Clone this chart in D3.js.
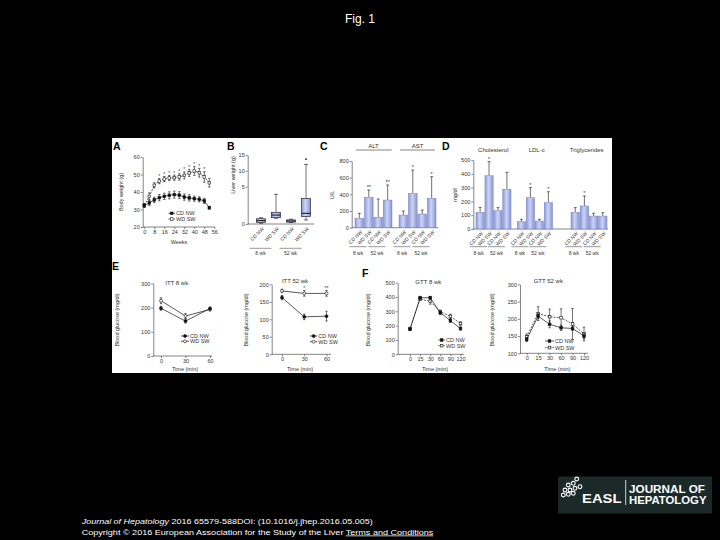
<!DOCTYPE html>
<html><head><meta charset="utf-8">
<script src="https://cdn.jsdelivr.net/npm/d3@7"></script>
<style>body{margin:0;background:#000;} svg{display:block;} text{font-family:Arial,"Liberation Sans",sans-serif;}</style>
</head><body>
<svg id="c" width="720" height="540"></svg>
<script>
// ---------- DATA ----------
// A: body weight
const weeks = [0,4,8,12,16,20,24,28,32,36,40,44,48,52];
const bwCD = [32.2,33.8,35.5,36.8,37.5,38.1,38.5,38.2,37.1,36.6,36.2,35.8,34.9,31.0];
const bwCDerr = [1,1.5,1.5,1.8,1.8,2,2,2,1.8,1.8,1.5,1.5,1.5,0.8];
const bwWD = [32.4,37.5,43.8,46.2,47.4,48,48.2,48.6,49.5,50.9,52.0,51.0,48.6,45.3];
const bwWDerr = [1,2,1.5,1.5,1.5,1.5,1.5,1.8,2,2,2.5,2.5,3,2.5];
const bwStarWeeks = [12,16,20,24,28,32,36,40,44,48];
const bwXTicks = [0,8,16,24,32,40,48,56];
const bwYTicks = [20,30,40,50,60];
// B: liver weight boxes
const groupCats = ["CD NW","WD SW","CD NW","WD SW"];
const periods = ["8 wk","52 wk"];
const liverMin = [0.1,0.76,0.2,0.54];
const liverQ1 = [0.2,0.84,0.25,0.98];
const liverMed = [0.45,1.2,0.4,1.43];
const liverQ3 = [0.7,1.57,0.55,3.44];
const liverMax = [0.85,3.98,0.65,12.0];
const liverOutliers = [[],[],[],[13.7]];
const liverYTicks = [0,5,10,15];
// C: ALT / AST
const cGroups = ["ALT","AST"];
const altMean = [113,365,125,332], altErr = [60,87,219,180], altStars = ["","**","","**"];
const astMean = [152,412,164,352], astErr = [48,280,48,260], astStars = ["","*","","*"];
const cYTicks = [0,200,400,600,800];
// D: lipids
const dGroups = ["Cholesterol","LDL-c","Triglycerides"];
const cholMean = [121,386,133,288], cholErr = [36,102,22,123], cholStars = ["","*","",""];
const ldlMean = [53,227,58,191], ldlErr = [17,73,12,79], ldlStars = ["","*","","*"];
const tgMean = [121,167,94,94], tgErr = [34,72,20,24], tgStars = ["","*","",""];
const dYTicks = [0,100,200,300,400,500];
// E: ITT
const ittTimes = [0,30,60];
const itt8CD = [197,144,196], itt8CDerr = [8,8,6];
const itt8WD = [228,165,192], itt8WDerr = [12,10,6];
const itt52CD = [162,107,109], itt52CDerr = [6,8,14];
const itt52WD = [181,174,174], itt52WDerr = [5,8,8];
const itt52Stars = ["","*","**"];
const itt8YTicks = [0,100,200,300];
const itt52YTicks = [0,50,100,150,200];
// F: GTT
const gttTimes = ["0","15","30","60","90","120"];
const gtt8CD = [175,395,395,290,235,180], gtt8CDerr = [8,10,10,12,12,12];
const gtt8WD = [180,385,370,297,265,215], gtt8WDerr = [8,10,20,12,15,12];
const gtt52CD = [140,208,184,174,172,150], gtt52CDerr = [6,8,10,8,6,8];
const gtt52WD = [148,215,206,203,185,156], gtt52WDerr = [8,20,22,26,45,20];
const gtt8YTicks = [0,100,200,300,400,500];
const gtt52YTicks = [100,150,200,250,300];

// ---------- SETUP ----------
const svg = d3.select("#c");
const INK = "#333";
const FS = 5.5;
svg.append("rect").attr("width",720).attr("height",540).attr("fill","#000");
svg.append("text").attr("x",360).attr("y",23).attr("text-anchor","middle").attr("fill","#fff").attr("font-size",12).text("Fig. 1");
svg.append("rect").attr("x",112).attr("y",138).attr("width",500).attr("height",235).attr("fill","#fff");

const defs = svg.append("defs");
const grad = defs.append("linearGradient").attr("id","barg").attr("x1","0").attr("x2","1").attr("y1","0").attr("y2","0");
grad.append("stop").attr("offset","0%").attr("stop-color","#8c9ad8");
grad.append("stop").attr("offset","45%").attr("stop-color","#cdd4f4");
grad.append("stop").attr("offset","100%").attr("stop-color","#8795d4");

function style(g){
  g.attr("font-size",FS).attr("font-family","Arial,Liberation Sans,sans-serif");
  g.selectAll("path,line").attr("stroke",INK).attr("stroke-width",0.6);
  g.selectAll("text").attr("fill",INK);
  return g;
}
function yAxis(x, scale, ticks){
  return style(svg.append("g").attr("transform",`translate(${x},0)`)
    .call(d3.axisLeft(scale).tickValues(ticks).tickSize(2).tickPadding(1).tickSizeOuter(0)));
}
function xAxis(y, scale, ticks){
  const ax = d3.axisBottom(scale).tickSize(2).tickPadding(1).tickSizeOuter(0);
  if (ticks) ax.tickValues(ticks);
  const g = style(svg.append("g").attr("transform",`translate(0,${y})`).call(ax));
  g.select(".domain").remove();
  return g;
}
function hline(x0,x1,y,w){ svg.append("line").attr("x1",x0).attr("x2",x1).attr("y1",y).attr("y2",y).attr("stroke",INK).attr("stroke-width",w||0.6); }
function txt(x,y,s,o){
  o=o||{};
  const t = svg.append("text").attr("x",x).attr("y",y).attr("font-size",o.fs||FS).attr("fill",o.fill||INK)
    .attr("text-anchor",o.anchor||"middle").text(s);
  if (o.bold) t.attr("font-weight","bold");
  if (o.rot) t.attr("transform",`rotate(${o.rot},${x},${y})`);
  return t;
}
function letter(x,y,s){ txt(x,y,s,{fs:10.5,bold:true,anchor:"start",fill:"#000"}); }
function rotLabels(xs, texts, y){
  svg.append("g").selectAll("text").data(texts).join("text")
    .attr("transform",(d,i)=>`translate(${xs[i]+2},${y}) rotate(-45)`)
    .attr("text-anchor","end").attr("dy","0.35em").attr("font-size",5).attr("fill",INK).text(d=>d);
}
function marker(g, x, y, filled, shape){
  const s = 2.6;
  if (shape==="circle") g.append("circle").attr("cx",x).attr("cy",y).attr("r",1.5).attr("fill",filled?"#111":"#fff").attr("stroke","#111").attr("stroke-width",0.6);
  else g.append("rect").attr("x",x-s/2).attr("y",y-s/2).attr("width",s).attr("height",s).attr("fill",filled?"#111":"#fff").attr("stroke","#111").attr("stroke-width",0.6);
}
function series(xs, ys, errs, xsc, ysc, filled, dash, shape){
  const g = svg.append("g");
  const pts = xs.map((x,i)=>({x, y:ys[i], e:errs[i]}));
  g.append("path").datum(pts).attr("fill","none").attr("stroke","#111").attr("stroke-width",0.7)
    .attr("stroke-dasharray",dash?"2,1.2":null)
    .attr("d",d3.line().x(d=>xsc(d.x)).y(d=>ysc(d.y)));
  pts.forEach(p=>{
    const cx = xsc(p.x);
    g.append("line").attr("x1",cx).attr("x2",cx).attr("y1",ysc(p.y-p.e)).attr("y2",ysc(p.y+p.e)).attr("stroke","#111").attr("stroke-width",0.6);
    [p.y-p.e,p.y+p.e].forEach(v=>g.append("line").attr("x1",cx-1.2).attr("x2",cx+1.2).attr("y1",ysc(v)).attr("y2",ysc(v)).attr("stroke","#111").attr("stroke-width",0.6));
    marker(g, cx, ysc(p.y), filled, shape);
  });
}
function legend(x, textX, ys, shape, dashWD){
  const items = [{l:"CD NW",f:true,d:false},{l:"WD SW",f:false,d:dashWD}];
  items.forEach((it,i)=>{
    const g = svg.append("g");
    g.append("line").attr("x1",x).attr("x2",textX-1).attr("y1",ys[i]).attr("y2",ys[i]).attr("stroke","#111").attr("stroke-width",0.7).attr("stroke-dasharray",it.d?"1.5,1":null);
    marker(g,(x+textX-1)/2,ys[i],it.f,shape);
    txt(textX,ys[i]+2,it.l,{anchor:"start",fs:5.5});
  });
}
function periodLabels(centersPairs, yLine, yText, shift, half){
  centersPairs.forEach((c,i)=>{
    hline(c-half-shift, c+half-shift, yLine, 0.5);
    txt(c-shift, yText, periods[i], {fs:5});
  });
}

// ---------- A ----------
letter(113,150,"A");
const ax = d3.scaleLinear().domain([0,56]).range([144.3,214.3]);
const ay = d3.scaleLinear().domain([20,60]).range([227,157]);
yAxis(142.7, ay, bwYTicks);
xAxis(227, ax, bwXTicks);
hline(142.7, 215, 227);
series(weeks, bwWD, bwWDerr, ax, ay, false, true, "square");
series(weeks, bwCD, bwCDerr, ax, ay, true, false, "square");
bwStarWeeks.forEach(w=>{ const i = weeks.indexOf(w); txt(ax(w), ay(bwWD[i]+bwWDerr[i])-0.5, "*", {fs:5}); });
legend(168.5, 176, [213.3,219], "square", true);
txt(123, 192, "Body weight (g)", {rot:-90});
txt(179, 244, "Weeks", {fs:5.5});

// ---------- B ----------
letter(227,150,"B");
const by = d3.scaleLinear().domain([0,5,10,15]).range([224,186.7,170.7,155]);
const bx = d3.scalePoint().domain(d3.range(4)).range([261,306]);
yAxis(247.7, by, liverYTicks);
hline(247.7, 314, by(0));
const boxW = 9;
d3.range(4).forEach(i=>{
  const cx = bx(i), g = svg.append("g");
  g.append("line").attr("x1",cx).attr("x2",cx).attr("y1",by(liverMin[i])).attr("y2",by(liverMax[i])).attr("stroke","#111").attr("stroke-width",0.6);
  [liverMin[i],liverMax[i]].forEach(v=>g.append("line").attr("x1",cx-2).attr("x2",cx+2).attr("y1",by(v)).attr("y2",by(v)).attr("stroke","#111").attr("stroke-width",0.6));
  g.append("rect").attr("x",cx-boxW/2).attr("y",by(liverQ3[i])).attr("width",boxW).attr("height",by(liverQ1[i])-by(liverQ3[i]))
    .attr("fill","url(#barg)").attr("stroke","#111").attr("stroke-width",0.6);
  g.append("line").attr("x1",cx-boxW/2).attr("x2",cx+boxW/2).attr("y1",by(liverMed[i])).attr("y2",by(liverMed[i])).attr("stroke","#111").attr("stroke-width",1);
  liverOutliers[i].forEach(v=>g.append("circle").attr("cx",cx).attr("cy",by(v)).attr("r",0.9).attr("fill","#111"));
});
rotLabels(d3.range(4).map(i=>bx(i)), groupCats, 228);
periodLabels([(bx(0)+bx(1))/2,(bx(2)+bx(3))/2], 248.3, 254.5, 8, 11);
txt(235, 175, "Liver weight (g)", {rot:-90});

// ---------- bar helper ----------
function barGroup(x0, x1, ysc, means, errs, stars){
  const band = d3.scaleBand().domain(d3.range(means.length)).range([x0,x1]).paddingInner(0.08);
  const g = svg.append("g");
  means.forEach((m,i)=>{
    const x = band(i), w = band.bandwidth(), cx = x + w/2;
    g.append("line").attr("x1",cx).attr("x2",cx).attr("y1",ysc(m)).attr("y2",ysc(m+errs[i])).attr("stroke","#111").attr("stroke-width",0.6);
    g.append("line").attr("x1",cx-1.5).attr("x2",cx+1.5).attr("y1",ysc(m+errs[i])).attr("y2",ysc(m+errs[i])).attr("stroke","#111").attr("stroke-width",0.6);
    g.append("rect").attr("x",x).attr("y",ysc(m)).attr("width",w).attr("height",ysc(0)-ysc(m))
      .attr("fill","url(#barg)").attr("stroke","#6572b8").attr("stroke-width",0.4);
    if (stars[i]) txt(cx, ysc(m+errs[i])-0.8, stars[i], {fs:5.5});
  });
  const centers = d3.range(means.length).map(i=>band(i)+band.bandwidth()/2);
  rotLabels(centers, groupCats, ysc(0)+3.5);
  periodLabels([(centers[0]+centers[1])/2,(centers[2]+centers[3])/2], 246.7, 254.5, 6, 8.5);
  return centers;
}

// ---------- C ----------
letter(320,150,"C");
const cy = d3.scaleLinear().domain([0,800]).range([227.7,161]);
yAxis(351.7, cy, cYTicks);
hline(351.7, 438, cy(0));
barGroup(355, 392, cy, altMean, altErr, altStars);
barGroup(399, 436, cy, astMean, astErr, astStars);
txt(373.5, 147.5, cGroups[0], {fs:6}); hline(356, 391.7, 150, 0.6);
txt(417.5, 147.5, cGroups[1], {fs:6}); hline(400, 435, 150, 0.6);
txt(334, 195, "U/L", {rot:-90});

// ---------- D ----------
letter(442,150,"D");
const dy = d3.scaleLinear().domain([0,500]).range([229,160]);
yAxis(473.3, dy, dYTicks);
hline(473.3, 608, dy(0));
barGroup(476, 511, dy, cholMean, cholErr, cholStars);
barGroup(517.3, 552.5, dy, ldlMean, ldlErr, ldlStars);
barGroup(571, 607, dy, tgMean, tgErr, tgStars);
txt(493.3, 152, dGroups[0], {fs:6});
txt(536.7, 152, dGroups[1], {fs:6});
txt(586.7, 152, dGroups[2], {fs:6});
txt(456.7, 195, "mg/dl", {rot:-90});

// ---------- E ----------
letter(112,270,"E");
const ex = d3.scaleLinear().domain([0,60]).range([161,210]);
const ey = d3.scaleLinear().domain([0,300]).range([356,283.3]);
yAxis(153.3, ey, itt8YTicks);
xAxis(356, ex, ittTimes); hline(153.3, 212, 356);
series(ittTimes, itt8WD, itt8WDerr, ex, ey, false, false, "circle");
series(ittTimes, itt8CD, itt8CDerr, ex, ey, true, false, "circle");
legend(181, 190, [336,341.3], "circle", false);
txt(176.7, 284.5, "ITT 8 wk", {fs:6});
txt(119.3, 320, "Blood glucose (mg/dl)", {rot:-90});
txt(185, 370.5, "Time (min)", {fs:5.5});

const ex2 = d3.scaleLinear().domain([0,60]).range([282,326.5]);
const ey2 = d3.scaleLinear().domain([0,200]).range([354.3,284.3]);
yAxis(271.7, ey2, itt52YTicks);
xAxis(354.3, ex2, ittTimes); hline(271.7, 331, 354.3);
series(ittTimes, itt52WD, itt52WDerr, ex2, ey2, false, false, "circle");
series(ittTimes, itt52CD, itt52CDerr, ex2, ey2, true, false, "circle");
itt52Stars.forEach((s,i)=>{ if (s) txt(ex2(ittTimes[i]), ey2(itt52WD[i]+itt52WDerr[i])-0.8, s, {fs:5}); });
legend(310, 318.3, [336,341.7], "circle", false);
txt(295, 283, "ITT 52 wk", {fs:6});
txt(248.3, 320, "Blood glucose (mg/dl)", {rot:-90});
txt(300, 370.5, "Time (min)", {fs:5.5});

// ---------- F ----------
letter(362,277,"F");
const fx = d3.scalePoint().domain(gttTimes).range([410,460.5]);
const fy = d3.scaleLinear().domain([0,500]).range([354.3,282.7]);
yAxis(397.7, fy, gtt8YTicks);
xAxis(354.3, fx); hline(397.7, 464, 354.3);
series(gttTimes, gtt8WD, gtt8WDerr, fx, fy, false, true, "square");
series(gttTimes, gtt8CD, gtt8CDerr, fx, fy, true, false, "square");
legend(438.3, 446, [340,345.7], "square", true);
txt(428.3, 283.5, "GTT 8 wk", {fs:6});
txt(370, 320, "Blood glucose (mg/dl)", {rot:-90});
txt(435, 370.5, "Time (min)", {fs:5.5});

const fx2 = d3.scalePoint().domain(gttTimes).range([526.7,584]);
const fy2 = d3.scaleLinear().domain([100,300]).range([353.3,284.3]);
yAxis(520, fy2, gtt52YTicks);
xAxis(353.3, fx2); hline(520, 588, 353.3);
series(gttTimes, gtt52WD, gtt52WDerr, fx2, fy2, false, true, "square");
series(gttTimes, gtt52CD, gtt52CDerr, fx2, fy2, true, false, "square");
legend(545, 555, [341,347.7], "square", true);
txt(548.3, 283, "GTT 52 wk", {fs:6});
txt(494, 320, "Blood glucose (mg/dl)", {rot:-90});
txt(557.3, 370.5, "Time (min)", {fs:5.5});

// ---------- footer ----------
const f1 = svg.append("text").attr("x",81.7).attr("y",523.5).attr("font-size",7.5).attr("fill","#fff")
  .attr("textLength",291).attr("lengthAdjust","spacingAndGlyphs");
f1.append("tspan").attr("font-style","italic").text("Journal of Hepatology");
f1.append("tspan").text(" 2016 65579-588DOI: (10.1016/j.jhep.2016.05.005)");
const f2 = svg.append("text").attr("x",81.7).attr("y",534.5).attr("font-size",7.5).attr("fill","#fff")
  .attr("textLength",351.6).attr("lengthAdjust","spacingAndGlyphs");
f2.append("tspan").text("Copyright © 2016 European Association for the Study of the Liver ");
f2.append("tspan").attr("text-decoration","underline").text("Terms and Conditions");

// ---------- logo ----------
svg.append("rect").attr("x",558).attr("y",476.5).attr("width",154).attr("height",37).attr("fill","#1b2a28");
const bub = [[568.3,485],[573.3,483.3],[576.7,479],[565,490],[570,490],[575,488.3],[580,486.7],[563.3,495],[568.3,494.3],[573.3,493.3]];
bub.forEach(b=>svg.append("circle").attr("cx",b[0]).attr("cy",b[1]).attr("r",1.9).attr("fill","none").attr("stroke","#fff").attr("stroke-width",1.1));
svg.append("text").attr("x",582).attr("y",503.3).attr("font-size",13).attr("font-weight","bold").attr("fill","#fff")
  .attr("textLength",39.5).attr("lengthAdjust","spacingAndGlyphs").text("EASL");
svg.append("line").attr("x1",625.7).attr("x2",625.7).attr("y1",480).attr("y2",505).attr("stroke","#fff").attr("stroke-width",0.8);
svg.append("text").attr("x",629).attr("y",492.5).attr("font-size",11.5).attr("font-weight","bold").attr("fill","#fff")
  .attr("textLength",76).attr("lengthAdjust","spacingAndGlyphs").text("JOURNAL OF");
svg.append("text").attr("x",629).attr("y",503.5).attr("font-size",11.5).attr("font-weight","bold").attr("fill","#fff")
  .attr("textLength",77.5).attr("lengthAdjust","spacingAndGlyphs").text("HEPATOLOGY");
</script>
</body></html>
